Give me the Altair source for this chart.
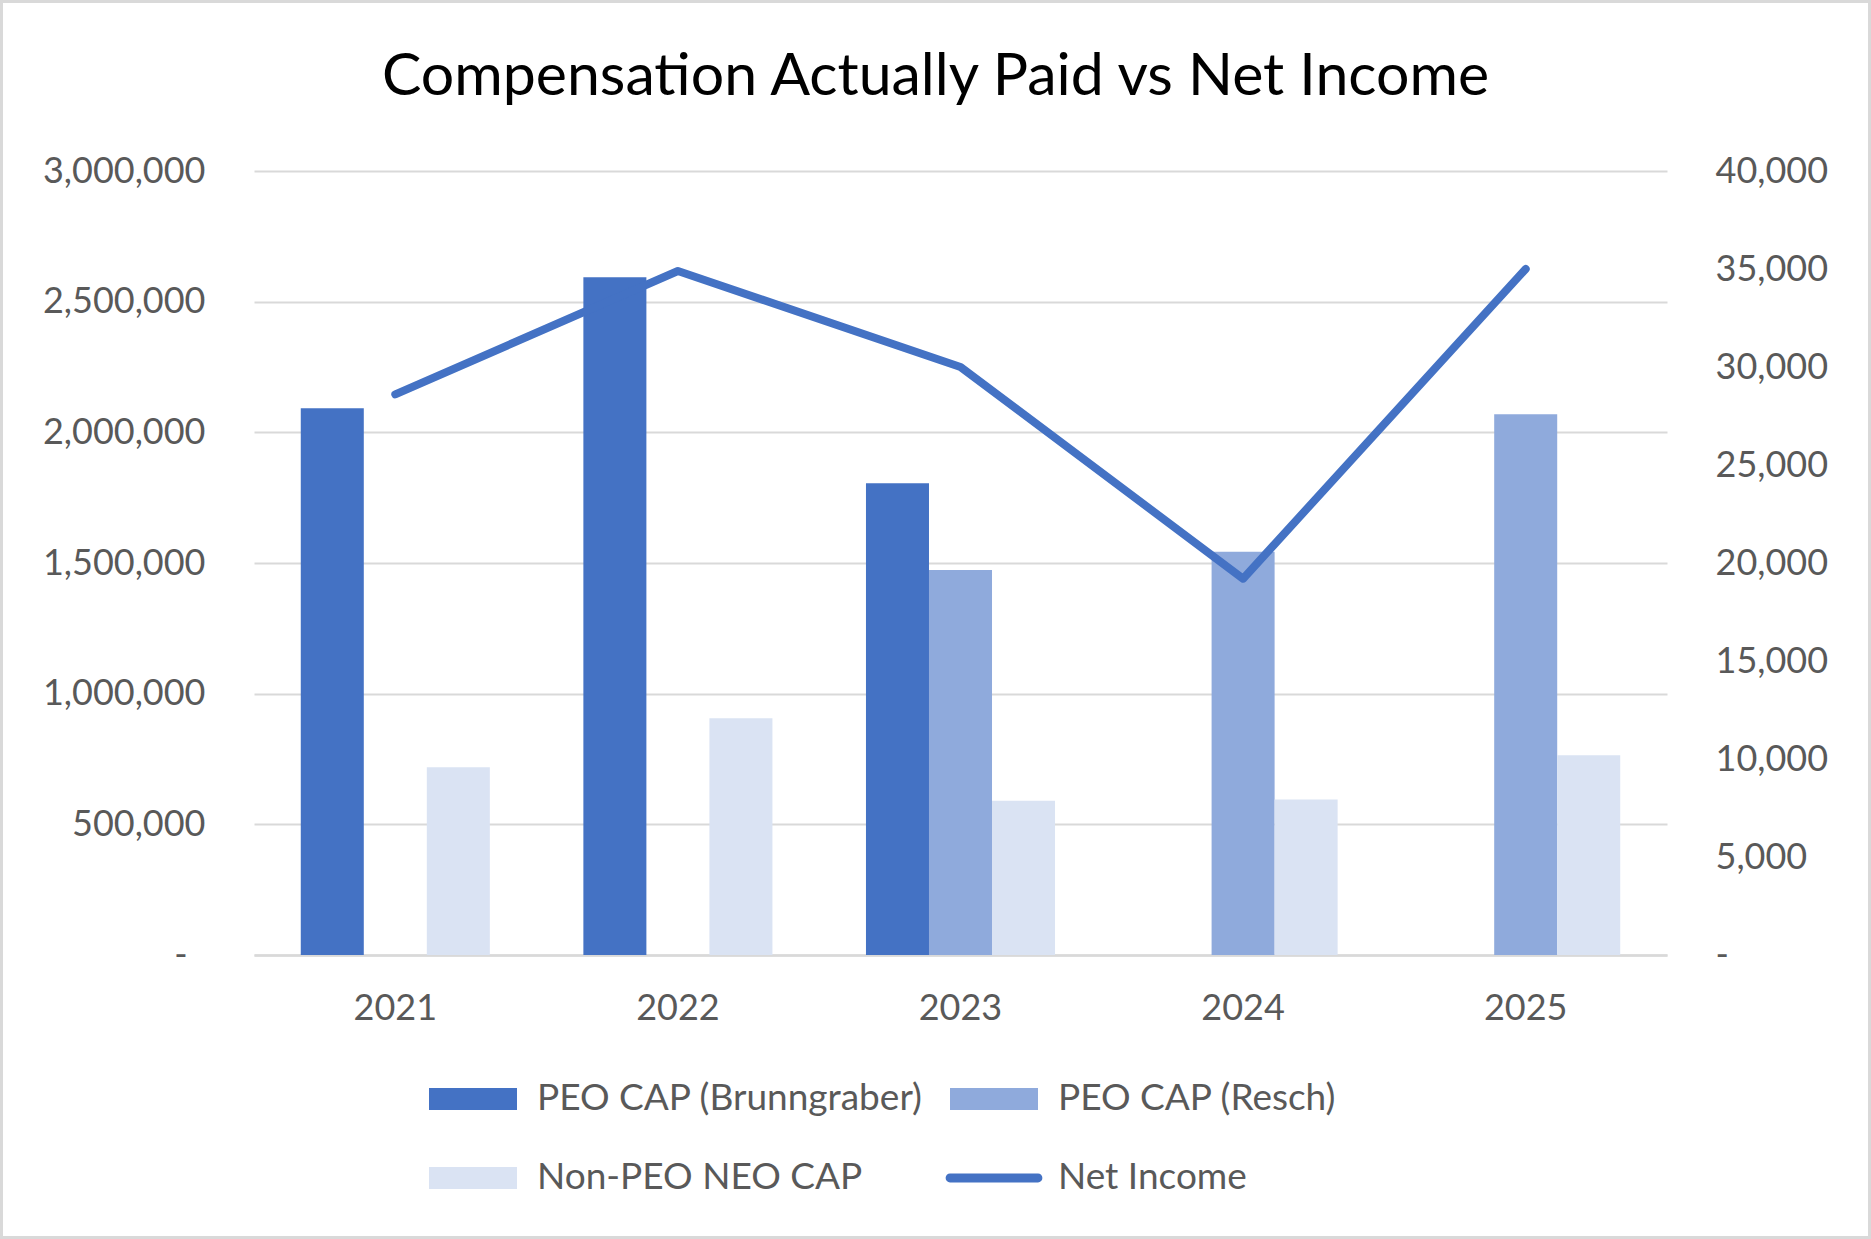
import altair as alt
import pandas as pd

# ---- data ----
years = ["2021", "2022", "2023", "2024", "2025"]
peo_brunngraber = [2092000, 2593000, 1805000, None, None]
peo_resch = [None, None, 1473000, 1543000, 2069000]
non_peo_neo = [718000, 906000, 590000, 595000, 764000]
net_income = [28600, 34900, 30000, 19200, 35000]

series_names = ["PEO CAP (Brunngraber)", "PEO CAP (Resch)", "Non-PEO NEO CAP", "Net Income"]
series_colors = ["#4472C4", "#8FAADC", "#DAE3F3", "#4472C4"]
# legend fills column by column: this order gives rows (Brunngraber, Resch) / (Non-PEO, Net Income)
legend_order = ["PEO CAP (Brunngraber)", "Non-PEO NEO CAP", "PEO CAP (Resch)", "Net Income"]
left_ticks = [0, 500000, 1000000, 1500000, 2000000, 2500000, 3000000]
right_ticks = [0, 5000, 10000, 15000, 20000, 25000, 30000, 35000, 40000]

FONT = "Lato"
GREY = "#595959"
GRID = "#D9D9D9"

W, H = 1413, 784
PAD = {"left": 254, "top": 171, "right": 204, "bottom": 284}

rows = []
for i, y in enumerate(years):
    for name, vals in zip(series_names[:3], [peo_brunngraber, peo_resch, non_peo_neo]):
        if vals[i] is not None:
            rows.append({"year": y, "series": name, "value": vals[i]})
bar_df = pd.DataFrame(rows)
line_df = pd.DataFrame({"year": years, "series": series_names[3], "value": net_income})

color_map = dict(zip(series_names, series_colors))
color_scale = alt.Scale(domain=legend_order, range=[color_map[s] for s in legend_order])

shape_sig = ("datum.value === 'Net Income' ? "
             "'M-1,-0.1H1A0.1,0.1 0 0 1 1,0.1H-1A0.1,0.1 0 0 1 -1,-0.1Z' : "
             "'M-1,-0.25H1V0.25H-1Z'")
legend = alt.Legend(
    orient="none", legendX=175, legendY=884, columns=2, title=None,
    symbolSize=7744, labelOffset=20, columnPadding=22, rowPadding=17,
    labelFont=FONT, labelFontSize=37, labelColor=GREY, labelLimit=800, padding=0,
    symbolType=alt.ExprRef(expr=shape_sig),
    symbolFillColor=alt.ExprRef(expr="scale('color', datum.value)"),
    symbolStrokeWidth=0, symbolOpacity=1,
)

x_enc = alt.X("year:N", sort=years, title=None,
              scale=alt.Scale(paddingInner=0.331, paddingOuter=0.1655),
              axis=alt.Axis(labelAngle=0, labelFont=FONT, labelFontSize=36, labelColor=GREY,
                            labelPadding=53, labelBaseline="middle", ticks=False, tickSize=0,
                            domain=True, domainColor=GRID, domainWidth=2.5, grid=False))

frame = alt.Chart(pd.DataFrame({"a": [0]})).mark_rect(
    filled=False, stroke=GRID, strokeWidth=3
).encode(
    x=alt.value(-PAD["left"] + 1.5), x2=alt.value(W + PAD["right"] - 1.5),
    y=alt.value(-PAD["top"] + 1.5), y2=alt.value(H + PAD["bottom"] - 1.5),
)

bars = alt.Chart(bar_df).mark_bar().encode(
    x=x_enc,
    xOffset=alt.XOffset("series:N", sort=series_names[:3],
                        scale=alt.Scale(domain=series_names[:3], paddingInner=0, paddingOuter=0)),
    y=alt.Y("value:Q", title=None, scale=alt.Scale(domain=[0, 3000000], nice=False),
            axis=alt.Axis(orient="left", values=left_ticks,
                          labelExpr="datum.value == 0 ? '-' : format(datum.value, ',')",
                          labelFont=FONT, labelFontSize=36, labelColor=GREY,
                          labelPadding={"condition": {"test": "datum.value === 0", "value": 67},
                                        "value": 49},
                          ticks=False, tickSize=0, domain=False,
                          grid=True, gridColor=GRID, gridWidth=2)),
    color=alt.Color("series:N", scale=color_scale, legend=legend),
)

line = alt.Chart(line_df).mark_line(strokeWidth=8, strokeCap="round", strokeJoin="round").encode(
    x=alt.X("year:N", sort=years),
    y=alt.Y("value:Q", title=None, scale=alt.Scale(domain=[0, 40000], nice=False),
            axis=alt.Axis(orient="right", values=right_ticks,
                          labelExpr="datum.value == 0 ? '-' : format(datum.value, ',')",
                          labelFont=FONT, labelFontSize=36, labelColor=GREY, labelPadding=48,
                          ticks=False, tickSize=0, domain=False, grid=False)),
    color=alt.Color("series:N", scale=color_scale, legend=legend),
)

chart = alt.layer(frame, bars, line).resolve_scale(y="independent").properties(
    width=W, height=H,
    autosize=alt.AutoSizeParams(type="none"),
    padding=PAD,
    background="white",
    title=alt.Title("Compensation Actually Paid vs Net Income", font=FONT, fontSize=59,
                    fontWeight="normal", color="#000000", anchor="middle", frame="group",
                    baseline="alphabetic", offset=-153.5, dx=-25),
).configure_view(stroke=None)

chart.save("out.html", embed_options={"renderer": "svg", "actions": False})
